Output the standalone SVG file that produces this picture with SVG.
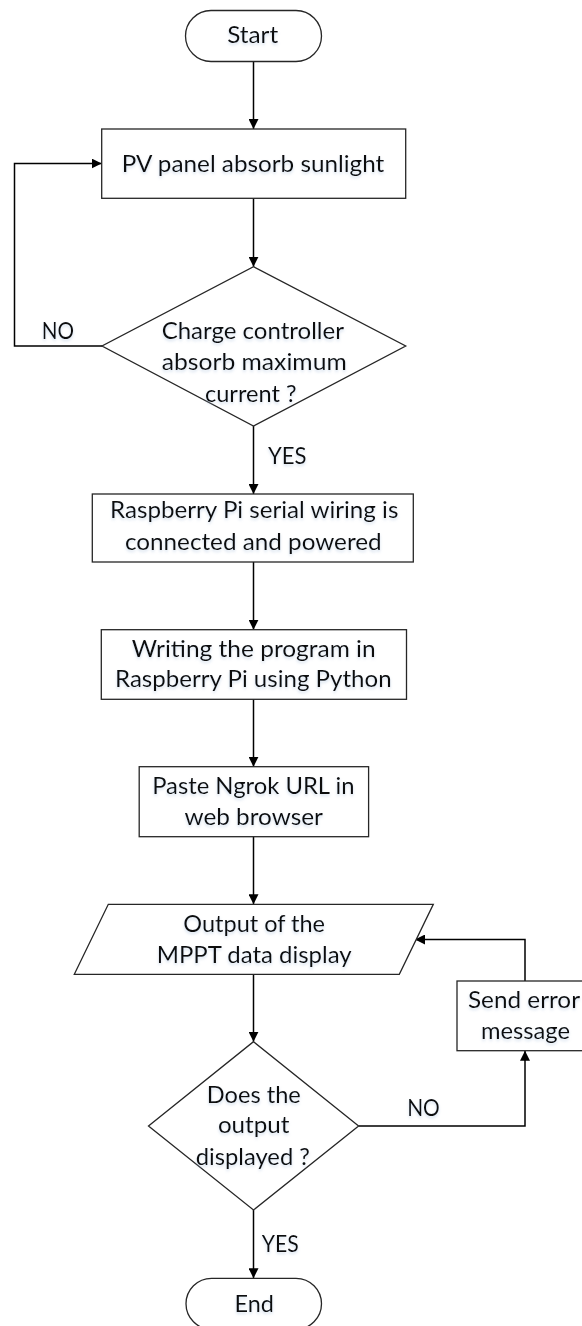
<svg xmlns="http://www.w3.org/2000/svg" width="582" height="1326" viewBox="0 0 582 1326">
  <defs>
    <marker id="arrow" viewBox="0 0 10 10" refX="10" refY="5" markerWidth="10" markerHeight="10" markerUnits="userSpaceOnUse" orient="auto">
      <path d="M0,0 L10,5 L0,10 z" fill="#000"/>
    </marker>
    <!-- soft bluish shadow under the labels -->
    <filter id="glow" x="-10%" y="-40%" width="120%" height="180%">
      <feGaussianBlur in="SourceAlpha" stdDeviation="1.6" result="b"/>
      <feOffset in="b" dy="1.5" result="o"/>
      <feFlood flood-color="#9fb8d6" flood-opacity="0.45"/>
      <feComposite in2="o" operator="in" result="s"/>
      <feMerge><feMergeNode in="s"/><feMergeNode in="SourceGraphic"/></feMerge>
    </filter>
  </defs>
  <style>
    .shape { fill: #fff; stroke: #262626; stroke-width: 1.3; }
    .conn { fill: none; stroke: #000; stroke-width: 1.5; marker-end: url(#arrow); }
    .plain { fill: none; stroke: #000; stroke-width: 1.5; }
    text { font-family: Lato, "Liberation Sans", sans-serif; font-size: 24px; fill: #111; text-anchor: middle; filter: url(#glow); }
  </style>

  <rect width="582" height="1326" fill="#fff"/>

  <!-- connectors -->
  <g id="connectors">
    <path class="conn" d="M253.5,61 V129"/>
    <path class="conn" d="M253.5,198.3 V266.7"/>
    <path class="conn" d="M102,346 H14.5 V163.5 H101.7"/>
    <path class="conn" d="M253.5,426 V494"/>
    <path class="conn" d="M253.5,562 V629.7"/>
    <path class="conn" d="M253.5,699.3 V766.7"/>
    <path class="conn" d="M253.5,836.7 V904.3"/>
    <path class="conn" d="M253.5,974.3 V1041.7"/>
    <path class="conn" d="M358.6,1126 H525 V1050.7"/>
    <path class="conn" d="M525,981 V939.5 H415"/>
    <path class="conn" d="M253.5,1210 V1278.3"/>
    <text x="57.8" y="339.3" textLength="32.3" lengthAdjust="spacingAndGlyphs">NO</text>
    <text x="287.3" y="464" textLength="38.6" lengthAdjust="spacingAndGlyphs">YES</text>
    <text x="423.5" y="1116" textLength="32.7" lengthAdjust="spacingAndGlyphs">NO</text>
    <text x="280.2" y="1252.3" textLength="37" lengthAdjust="spacingAndGlyphs">YES</text>
  </g>

  <g id="start">
    <rect class="shape" x="185.5" y="10.5" width="136" height="51" rx="25.5"/>
    <text x="252.7" y="43.3" textLength="51" lengthAdjust="spacingAndGlyphs">Start</text>
  </g>

  <g id="pv-panel">
    <rect class="shape" x="101.7" y="129" width="304" height="69.3"/>
    <text x="253" y="171.7" textLength="262.6" lengthAdjust="spacingAndGlyphs">PV panel absorb sunlight</text>
  </g>

  <g id="charge-check">
    <polygon class="shape" points="253.5,266.7 405.7,346 253.5,426 102,346"/>
    <text x="252.8" y="339" textLength="182.3" lengthAdjust="spacingAndGlyphs">Charge controller</text>
    <text x="254.2" y="369.5" textLength="185" lengthAdjust="spacingAndGlyphs">absorb maximum</text>
    <text x="250.8" y="401.7" textLength="91.7" lengthAdjust="spacingAndGlyphs">current ?</text>
  </g>

  <g id="raspberry-wiring">
    <rect class="shape" x="92.3" y="494" width="321" height="68"/>
    <text x="254.2" y="518.3" textLength="288.3" lengthAdjust="spacingAndGlyphs">Raspberry Pi serial wiring is</text>
    <text x="253.3" y="550" textLength="256.7" lengthAdjust="spacingAndGlyphs">connected and powered</text>
  </g>

  <g id="write-program">
    <rect class="shape" x="101.3" y="629.7" width="305.2" height="69.6"/>
    <text x="253.7" y="656.7" textLength="243.8" lengthAdjust="spacingAndGlyphs">Writing the program in</text>
    <text x="253.3" y="687.3" textLength="276.6" lengthAdjust="spacingAndGlyphs">Raspberry Pi using Python</text>
  </g>

  <g id="paste-url">
    <rect class="shape" x="139.2" y="766.7" width="229.4" height="70"/>
    <text x="253.3" y="794.3" textLength="202.3" lengthAdjust="spacingAndGlyphs">Paste Ngrok URL in</text>
    <text x="253.7" y="825" textLength="138.5" lengthAdjust="spacingAndGlyphs">web browser</text>
  </g>

  <g id="output-display">
    <polygon class="shape" points="108.3,904.3 433.3,904.3 399.3,974.3 74.3,974.3"/>
    <text x="254.2" y="931.7" textLength="141.7" lengthAdjust="spacingAndGlyphs">Output of the</text>
    <text x="254.2" y="963.3" textLength="195" lengthAdjust="spacingAndGlyphs">MPPT data display</text>
  </g>

  <g id="send-error">
    <rect class="shape" x="457" y="981" width="136" height="69.7"/>
    <text x="524" y="1008.3" textLength="112" lengthAdjust="spacingAndGlyphs">Send error</text>
    <text x="525.5" y="1039.3" textLength="89" lengthAdjust="spacingAndGlyphs">message</text>
  </g>

  <g id="output-check">
    <polygon class="shape" points="253.5,1041.7 358.6,1126 253.5,1210 148.5,1126"/>
    <text x="253.8" y="1102.7" textLength="94" lengthAdjust="spacingAndGlyphs">Does the</text>
    <text x="253.7" y="1133.3" textLength="71.6" lengthAdjust="spacingAndGlyphs">output</text>
    <text x="252.8" y="1165" textLength="114.3" lengthAdjust="spacingAndGlyphs">displayed ?</text>
  </g>

  <g id="end">
    <rect class="shape" x="186" y="1278.3" width="135.5" height="51" rx="25.5"/>
    <text x="254.3" y="1311.7" textLength="39.4" lengthAdjust="spacingAndGlyphs">End</text>
  </g>
</svg>
